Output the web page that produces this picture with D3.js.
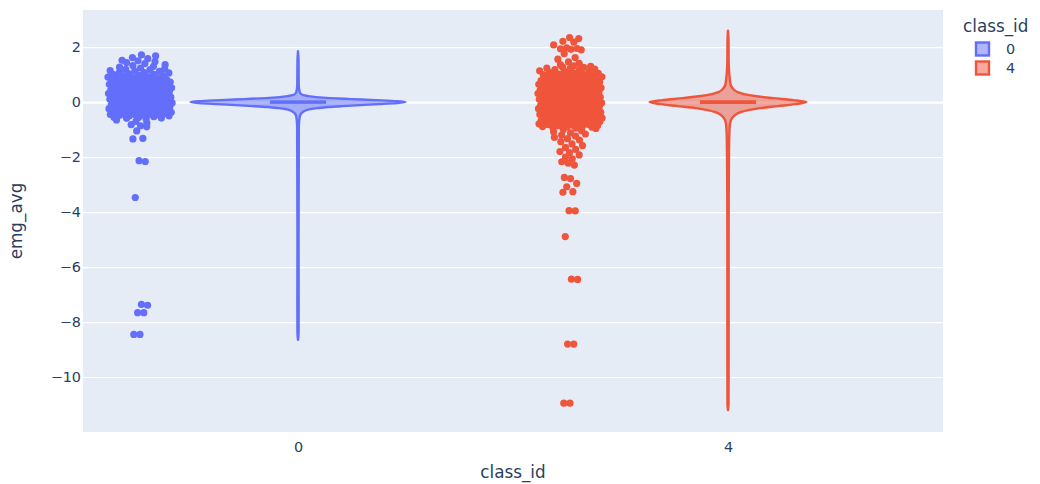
<!DOCTYPE html>
<html>
<head>
<meta charset="utf-8">
<script src="https://cdn.jsdelivr.net/npm/d3@7"></script>
<style>
  body { margin: 0; background: #fff; }
  text { font-family: "DejaVu Sans", Verdana, sans-serif; fill: #2a3f5f; }
</style>
</head>
<body>
<div id="chart"></div>
<script>
const categories = ["0", "4"];
const colors = ["#636efa", "#EF553B"];
const fills = ["rgba(99,110,250,0.5)", "rgba(239,85,59,0.5)"];
const yTicks = [2, 0, -2, -4, -6, -8, -10];

// emg_avg values for class_id 0
const class0Values = [
  1.72, 1.68, 1.62, 1.58, 1.52, 1.5, 1.47, 1.44, 1.4, 1.36, 1.33, 1.3, 1.27, 1.24, 1.21,
  1.19, 1.18, 1.15, 1.13, 1.12, 1.09, 1.07, 1.06, 1.03, 1.01, 1.0, 0.98, 0.96, 0.95, 0.93,
  0.91, 0.89, 0.87, 0.86, 0.84, 0.82,
  0.8, 0.79, 0.78, 0.77, 0.76, 0.75, 0.74, 0.73, 0.72, 0.71, 0.7, 0.69, 0.68, 0.67, 0.66,
  0.65, 0.64, 0.63, 0.62, 0.61, 0.6, 0.59, 0.58, 0.57, 0.56, 0.55, 0.54, 0.53, 0.52, 0.51,
  0.5, 0.49, 0.48, 0.47, 0.46, 0.45, 0.44, 0.43, 0.42, 0.41, 0.4, 0.39, 0.38, 0.37, 0.36,
  0.35, 0.34, 0.33, 0.32, 0.31, 0.3, 0.29, 0.28, 0.27, 0.26,
  0.25, 0.24, 0.23, 0.22, 0.21, 0.2, 0.19, 0.18, 0.17, 0.16, 0.15, 0.14, 0.13, 0.12, 0.11,
  0.1, 0.09, 0.08, 0.07, 0.06, 0.05, 0.04, 0.03, 0.02, 0.01, 0, -0.01, -0.02, -0.03, -0.04,
  -0.05, -0.06, -0.07, -0.08, -0.09, -0.1, -0.11, -0.12, -0.13, -0.14, -0.15, -0.16, -0.17,
  -0.18, -0.19, -0.2, -0.21, -0.22, -0.23, -0.24, -0.25, -0.26, -0.27, -0.28, -0.29, -0.3,
  -0.31, -0.32, -0.33, -0.34, -0.35, -0.36, -0.37, -0.38, -0.39, -0.4, -0.41, -0.42, -0.43,
  -0.44, -0.45, -0.46, -0.47, -0.48, -0.49, -0.5, -0.51, -0.53, -0.55, -0.56, -0.58, -0.59,
  -0.62, -0.65,
  -0.7, -0.76, -0.82, -0.86, -0.9, -1.05, -1.32, -1.34, -2.13, -2.16, -3.47,
  -7.36, -7.39, -7.66, -7.66, -8.45, -8.45
];

// emg_avg values for class_id 4
const class4Values = [
  2.35, 2.31, 2.21, 2.18, 2.08, 1.97, 1.95, 1.94, 1.92, 1.9, 1.76, 1.62, 1.56, 1.46, 1.41,
  1.36, 1.32, 1.3, 1.28, 1.26, 1.24, 1.22, 1.2, 1.18, 1.17, 1.14, 1.12, 1.11, 1.08, 1.06,
  1.05, 1.02, 1.01, 1.0, 0.98, 0.97, 0.96, 0.94, 0.92, 0.9, 0.88, 0.86, 0.84, 0.82,
  0.8, 0.79, 0.78, 0.77, 0.76, 0.75, 0.74, 0.73, 0.72, 0.71, 0.7, 0.69, 0.68, 0.67, 0.66,
  0.65, 0.64, 0.63, 0.62, 0.61, 0.6, 0.59, 0.58, 0.57, 0.56, 0.55, 0.54, 0.53, 0.52, 0.51,
  0.5, 0.49, 0.48, 0.47, 0.46, 0.45, 0.44, 0.43, 0.42, 0.41, 0.4, 0.39, 0.38, 0.37, 0.36,
  0.35, 0.34, 0.33, 0.32, 0.31, 0.3, 0.29, 0.28, 0.27, 0.26,
  0.25, 0.24, 0.23, 0.22, 0.21, 0.2, 0.19, 0.18, 0.17, 0.16, 0.15, 0.14, 0.13, 0.12, 0.11,
  0.1, 0.09, 0.08, 0.07, 0.06, 0.05, 0.04, 0.03, 0.02, 0.01, 0, -0.01, -0.02, -0.03, -0.04,
  -0.05, -0.06, -0.07, -0.08, -0.09, -0.1, -0.11, -0.12, -0.13, -0.14, -0.15, -0.16, -0.17,
  -0.18, -0.19, -0.2, -0.21, -0.22, -0.23, -0.24, -0.25, -0.26, -0.27, -0.28, -0.29, -0.3,
  -0.31, -0.32, -0.33, -0.34, -0.35, -0.36, -0.37, -0.38, -0.39, -0.4, -0.41, -0.42, -0.43,
  -0.44, -0.45, -0.46, -0.47, -0.48, -0.49, -0.5, -0.51, -0.52, -0.53, -0.54, -0.55, -0.56,
  -0.57, -0.58, -0.59, -0.6, -0.61, -0.62, -0.63, -0.64, -0.65, -0.66, -0.67, -0.68, -0.69,
  -0.7, -0.71, -0.72, -0.73, -0.74, -0.75, -0.76, -0.77, -0.78, -0.79, -0.8,
  -0.81, -0.82, -0.84, -0.85, -0.86, -0.88, -0.89, -0.9, -0.91, -0.93, -0.95, -0.96, -1.0,
  -1.04, -1.08, -1.12, -1.16, -1.2,
  -1.24, -1.28, -1.33, -1.38, -1.44, -1.52, -1.58, -1.65, -1.72, -1.8, -1.84, -1.92, -2.0,
  -2.06, -2.17, -2.22, -2.29, -2.74, -2.78, -2.96, -3.08, -3.26, -3.28, -3.95, -3.96,
  -4.89, -6.44, -6.45, -8.8, -8.8, -10.95, -10.95
];

// violin outlines: value -> half width (fraction of max half width)
const violin0Y     = [1.85, 1.5, 1.0, 0.6, 0.44, 0.33, 0.25, 0.22, 0.18, 0.145, 0.11, 0.073, 0.036, 0,
                      -0.036, -0.073, -0.11, -0.145, -0.18, -0.22, -0.25, -0.29, -0.36, -0.44, -0.55,
                      -0.9, -2.1, -3.5, -5, -7.4, -8.4, -8.65];
const violin0Width = [0, 0.005, 0.006, 0.007, 0.012, 0.02, 0.05, 0.09, 0.17, 0.3, 0.5, 0.72, 0.9, 1,
                      0.92, 0.76, 0.58, 0.42, 0.28, 0.18, 0.12, 0.08, 0.045, 0.025, 0.015,
                      0.008, 0.007, 0.006, 0.005, 0.006, 0.005, 0];
const violin4Y     = [2.6, 2.2, 1.5, 0.73, 0.58, 0.47, 0.36, 0.29, 0.22, 0.145, 0.073, 0,
                      -0.073, -0.145, -0.22, -0.29, -0.36, -0.47, -0.58, -0.8, -1.2, -2, -3.3,
                      -5, -8.8, -11, -11.2];
const violin4Width = [0, 0.005, 0.006, 0.02, 0.03, 0.05, 0.09, 0.15, 0.25, 0.42, 0.61, 0.73,
                      0.63, 0.47, 0.3, 0.19, 0.12, 0.065, 0.038, 0.018, 0.012, 0.009, 0.007,
                      0.006, 0.006, 0.005, 0];
// inner box quartiles
const boxQ1 = [-0.02, -0.025];
const boxQ3 = [0.02, 0.025];

const values = [class0Values, class4Values];
const violinY = [violin0Y, violin4Y];
const violinW = [violin0Width, violin4Width];

const width = 1040, height = 484;
const plot = {left: 83, right: 943, top: 10, bottom: 432};

const svg = d3.select("#chart").append("svg")
    .attr("width", width)
    .attr("height", height);

svg.append("rect")
    .attr("x", plot.left).attr("y", plot.top)
    .attr("width", plot.right - plot.left)
    .attr("height", plot.bottom - plot.top)
    .attr("fill", "#E5ECF6");

const xScale = d3.scaleLinear().domain([-0.5, 1.5]).range([plot.left, plot.right]);
const yScale = d3.scaleLinear().domain([-12.0, 3.35]).range([plot.bottom, plot.top]);

// grid + y tick labels
const yAxisGroup = svg.append("g")
    .attr("transform", `translate(${plot.left},0)`)
    .call(d3.axisLeft(yScale).tickValues(yTicks).tickSize(-(plot.right - plot.left)).tickPadding(2));
yAxisGroup.select(".domain").remove();
yAxisGroup.selectAll(".tick line")
    .attr("stroke", "#fff")
    .attr("stroke-width", d => d === 0 ? 2.4 : 1.2);
yAxisGroup.selectAll(".tick text")
    .style("font-size", "14.4px")
    .attr("fill", "#2a3f5f");

const xAxisGroup = svg.append("g")
    .attr("transform", `translate(0,${plot.bottom})`)
    .call(d3.axisBottom(xScale).tickValues([0, 1]).tickFormat(i => categories[i]).tickSize(0).tickPadding(10));
xAxisGroup.select(".domain").remove();
xAxisGroup.selectAll(".tick text")
    .style("font-size", "14.4px")
    .attr("fill", "#2a3f5f");

// axis titles
svg.append("text")
    .attr("x", (plot.left + plot.right) / 2)
    .attr("y", 478)
    .attr("text-anchor", "middle")
    .style("font-size", "16.8px")
    .text("class_id");

svg.append("text")
    .attr("transform", `translate(22,${(plot.top + plot.bottom) / 2}) rotate(-90)`)
    .attr("text-anchor", "middle")
    .style("font-size", "16.8px")
    .text("emg_avg");

const halfW = xScale(0.25) - xScale(0);
const pointPos = -1.47;
const jitter = 0.3;
const densityRef = 30;

// plotly-like jitter: spread scaled by local point density, capped at 1
function jitterPoints(vals) {
    const sorted = vals.slice().sort((a, b) => a - b);
    const n = sorted.length;
    const minSpan = (sorted[n - 1] - sorted[0]) * 0.01;
    return sorted.map((v, k) => {
        const k0 = Math.max(0, k - 5), k1 = Math.min(n - 1, k + 5);
        const dens = (k1 - k0) / (sorted[k1] - sorted[k0] + minSpan);
        return {
            value: v,
            jf: Math.max(0.25, Math.min(1, dens / densityRef)),
            u: ((k * 0.6180339887 + 0.5) % 1) * 2 - 1
        };
    });
}

categories.forEach((cat, i) => {
    const cx = xScale(i);
    const profile = violinY[i].map((v, k) => ({value: v, w: violinW[i][k]}));

    const area = d3.area()
        .y(d => yScale(d.value))
        .x0(d => cx - d.w * halfW)
        .x1(d => cx + d.w * halfW)
        .curve(d3.curveMonotoneY);

    svg.append("path")
        .datum(profile)
        .attr("d", area)
        .attr("fill", fills[i])
        .attr("stroke", colors[i])
        .attr("stroke-width", 2.4)
        .attr("stroke-linejoin", "round");

    // inner box
    svg.append("rect")
        .attr("x", cx - halfW * 0.25)
        .attr("width", halfW * 0.5)
        .attr("y", yScale(boxQ3[i]))
        .attr("height", yScale(boxQ1[i]) - yScale(boxQ3[i]))
        .attr("fill", fills[i])
        .attr("stroke", colors[i])
        .attr("stroke-width", 2.4);

    const pts = jitterPoints(values[i]);
    svg.append("g").selectAll("circle")
        .data(pts)
        .join("circle")
        .attr("cx", d => cx + pointPos * halfW + jitter * halfW * d.jf * d.u)
        .attr("cy", d => yScale(d.value))
        .attr("r", 3.6)
        .attr("fill", colors[i]);
});

// legend
const legend = svg.append("g");
legend.append("text")
    .attr("x", 963).attr("y", 32)
    .style("font-size", "16.8px")
    .text("class_id");

categories.forEach((cat, i) => {
    const cy = 49 + i * 19;
    legend.append("rect")
        .attr("x", 976).attr("y", cy - 6.5)
        .attr("width", 13).attr("height", 13)
        .attr("fill", fills[i])
        .attr("stroke", colors[i])
        .attr("stroke-width", 2.4);
    legend.append("text")
        .attr("x", 1006).attr("y", cy + 5)
        .style("font-size", "14.4px")
        .text(cat);
});
</script>
</body>
</html>
